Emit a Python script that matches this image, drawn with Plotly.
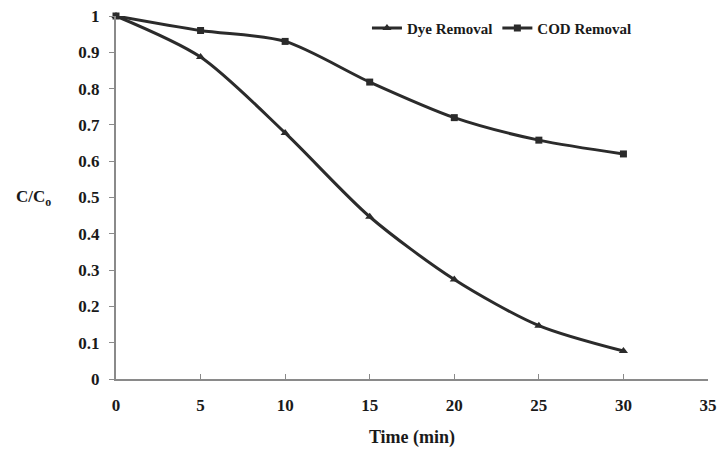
import plotly.graph_objects as go

time_min = [0, 5, 10, 15, 20, 25, 30]
dye_removal = [1.0, 0.887, 0.678, 0.447, 0.274, 0.147, 0.077]
cod_removal = [1.0, 0.96, 0.93, 0.818, 0.72, 0.658, 0.62]

x_ticks = [0, 5, 10, 15, 20, 25, 30, 35]
y_ticks = [0, 0.1, 0.2, 0.3, 0.4, 0.5, 0.6, 0.7, 0.8, 0.9, 1]
y_tick_text = ["0", "0.1", "0.2", "0.3", "0.4", "0.5", "0.6", "0.7", "0.8", "0.9", "1"]

FONT = "Liberation Serif"
LINE = "#2b2b2b"

fig = go.Figure()
fig.add_trace(go.Scatter(
    x=time_min, y=dye_removal, name="Dye Removal", mode="lines+markers",
    line=dict(color=LINE, width=3, shape="spline", smoothing=0.8),
    marker=dict(symbol="triangle-up", size=8, color=LINE),
    cliponaxis=False,
))
fig.add_trace(go.Scatter(
    x=time_min, y=cod_removal, name="COD Removal", mode="lines+markers",
    line=dict(color=LINE, width=3, shape="spline", smoothing=0.8),
    marker=dict(symbol="square", size=7, color=LINE),
    cliponaxis=False,
))

fig.update_layout(
    width=717, height=453,
    margin=dict(l=116, r=9, t=16, b=74, autoexpand=False),
    paper_bgcolor="white", plot_bgcolor="white",
    font=dict(family=FONT, size=17, color="#1a1a1a"),
    showlegend=True,
    legend=dict(
        x=0.88, y=1.012, xanchor="right", yanchor="top",
        orientation="h", bgcolor="rgba(0,0,0,0)",
        font=dict(family=FONT, size=15, color="#1a1a1a", weight="bold"),
        tracegroupgap=0,
    ),
    xaxis=dict(
        range=[0, 35], tickvals=x_ticks, showgrid=False, zeroline=False,
        showline=True, linecolor="#8a8a8a", linewidth=2,
        ticks="inside", ticklen=5, tickcolor="#8a8a8a",
        tickfont=dict(family=FONT, size=17, weight="bold"),
        ticklabelstandoff=10,
        title=dict(text="<b>Time (min)</b>", font=dict(family=FONT, size=18), standoff=16),
    ),
    yaxis=dict(
        range=[0, 1], tickvals=y_ticks, ticktext=y_tick_text, showgrid=False, zeroline=False,
        showline=True, linecolor="#8a8a8a", linewidth=2,
        ticks="outside", ticklen=5, tickcolor="#8a8a8a",
        tickfont=dict(family=FONT, size=17, weight="bold"),
        ticklabelstandoff=6,
    ),
)

fig.add_annotation(
    text="<b>C/C<sub>o</sub></b>", xref="paper", yref="paper",
    x=-0.106, y=0.5, showarrow=False, xanchor="right", yanchor="middle",
    font=dict(family=FONT, size=17, color="#1a1a1a"),
)

fig.write_html("out.html", config={"displayModeBar": False},
               post_script="document.body.style.margin='0';")
